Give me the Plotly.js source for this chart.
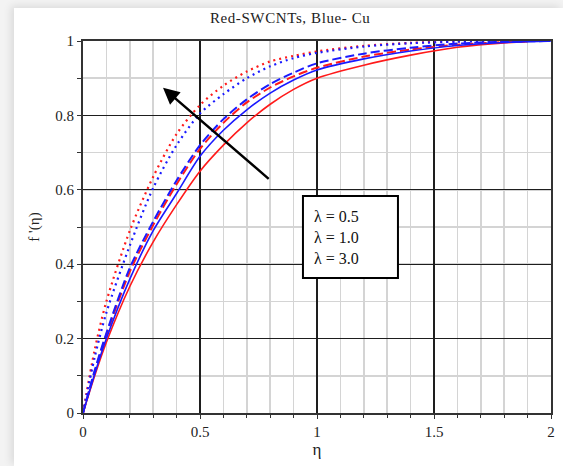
<!DOCTYPE html>
<html>
<head>
<meta charset="utf-8">
<script src="https://cdn.plot.ly/plotly-3.0.1.min.js"></script>
<style>
  html, body { margin: 0; padding: 0; width: 563px; height: 466px; overflow: hidden; background: #f3f3f3; }
  #chart { position: absolute; left: 14px; top: 8px; width: 549px; height: 458px; background: #fff;
           box-shadow: -3px -2px 8px rgba(0,0,0,0.10); }
  #chart .gtitle { letter-spacing: 0.6px; }
</style>
</head>
<body>
<div id="chart"></div>
<script>
// η sample points
const etaRed  = [0, 0.05, 0.1, 0.2, 0.3, 0.4, 0.5, 0.6, 0.7, 0.8, 0.9, 1.0, 1.2, 1.4, 1.6, 1.8, 1.9];
const etaBlue = [0, 0.05, 0.1, 0.2, 0.3, 0.4, 0.5, 0.6, 0.7, 0.8, 0.9, 1.0, 1.2, 1.4, 1.6, 1.8, 2.0];

// Red = SWCNTs
const redL05 = [0, 0.10, 0.19, 0.34, 0.46, 0.56, 0.65, 0.72, 0.78, 0.83, 0.87, 0.90, 0.935, 0.962, 0.983, 0.995, 0.998];
const redL10 = [0, 0.11, 0.21, 0.38, 0.505, 0.615, 0.71, 0.78, 0.835, 0.875, 0.905, 0.928, 0.958, 0.977, 0.99, 0.997, 0.999];
const redL30 = [0, 0.17, 0.30, 0.49, 0.635, 0.75, 0.828, 0.88, 0.918, 0.945, 0.96, 0.972, 0.987, 0.995, 0.999, 1.0, 1.0];
// Blue = Cu
const blueL05 = [0, 0.105, 0.20, 0.36, 0.49, 0.59, 0.69, 0.76, 0.815, 0.86, 0.895, 0.922, 0.952, 0.973, 0.988, 0.996, 1.0];
const blueL10 = [0, 0.115, 0.215, 0.39, 0.515, 0.625, 0.72, 0.79, 0.843, 0.884, 0.915, 0.94, 0.966, 0.982, 0.993, 0.998, 1.0];
const blueL30 = [0, 0.15, 0.27, 0.45, 0.605, 0.72, 0.805, 0.857, 0.9, 0.932, 0.954, 0.968, 0.985, 0.994, 0.998, 1.0, 1.0];

const legendLines = ["λ = 0.5", "λ = 1.0", "λ = 3.0"];
const xTicks = [0, 0.5, 1, 1.5, 2];
const xTickText = ["0", "0.5", "1", "1.5", "2"];
const yTicks = [0, 0.2, 0.4, 0.6, 0.8, 1];
const yTickText = ["0", "0.2", "0.4", "0.6", "0.8", "1"];

const RED = '#ff1a1a', BLUE = '#1a1aff';
const DASH = '9px,4px', DOT = '2px,4px';

function tr(x, y, color, dash, w) {
  return { x: x, y: y, type: 'scatter', mode: 'lines', hoverinfo: 'skip',
           line: { color: color, dash: dash, width: w, shape: 'spline', smoothing: 0.8 } };
}

const data = [
  tr(etaRed, redL05, RED, 'solid', 1.6),
  tr(etaRed, redL10, RED, DASH, 2),
  tr(etaRed, redL30, RED, DOT, 2.2),
  tr(etaBlue, blueL05, BLUE, 'solid', 1.6),
  tr(etaBlue, blueL10, BLUE, DASH, 2),
  tr(etaBlue, blueL30, BLUE, DOT, 2.2)
];

const serif = 'Liberation Serif, Times New Roman, serif';

const layout = {
  width: 549, height: 458,
  margin: { l: 69, r: 12, t: 33, b: 53 },
  paper_bgcolor: '#ffffff', plot_bgcolor: '#ffffff',
  showlegend: false,
  title: { text: 'Red-SWCNTs, Blue- Cu', font: { family: serif, size: 15, color: '#222' },
           xref: 'container', x: 0.503, xanchor: 'center', y: 0.978, yanchor: 'middle', yref: 'container' },
  xaxis: {
    range: [0, 2], tickvals: xTicks, ticktext: xTickText,
    showgrid: true, gridcolor: '#1e1e1e', gridwidth: 1.3,
    minor: { dtick: 0.1, showgrid: true, gridcolor: '#d4d4d4', gridwidth: 1.5, ticks: 'outside', ticklen: 3, tickcolor: '#333' },
    ticks: 'outside', ticklen: 4, tickcolor: '#333',
    showline: true, mirror: true, linecolor: '#333', linewidth: 2,
    zeroline: false,
    tickfont: { family: serif, size: 15, color: '#222' },
    title: { text: 'η', font: { family: serif, size: 17, color: '#222' }, standoff: 4 }
  },
  yaxis: {
    range: [0, 1], tickvals: yTicks, ticktext: yTickText,
    showgrid: true, gridcolor: '#1e1e1e', gridwidth: 1.3,
    minor: { dtick: 0.1, showgrid: true, gridcolor: '#d4d4d4', gridwidth: 1.5, ticks: 'outside', ticklen: 4, tickcolor: '#333' },
    ticks: 'outside', ticklen: 4, tickcolor: '#333',
    showline: true, mirror: true, linecolor: '#333', linewidth: 2,
    zeroline: false,
    tickfont: { family: serif, size: 15, color: '#222' },
    title: { text: "f '(η)", font: { family: serif, size: 15, color: '#222' }, standoff: 12 }
  },
  shapes: [
    { type: 'rect', xref: 'x', yref: 'y', x0: 0.94, x1: 1.346, y0: 0.363, y1: 0.583,
      fillcolor: '#ffffff', line: { color: '#000', width: 2 }, layer: 'above' }
  ],
  annotations: [
    { xref: 'x', yref: 'y', x: 0.342, y: 0.874, axref: 'x', ayref: 'y', ax: 0.80, ay: 0.626,
      showarrow: true, arrowhead: 2, arrowsize: 1.3, arrowwidth: 2.5, arrowcolor: '#000', text: '' },
    { xref: 'x', yref: 'y', x: 0.978, y: 0.472, xanchor: 'left', yanchor: 'middle', align: 'left',
      showarrow: false, text: legendLines.join('<br>'),
      font: { family: serif, size: 16, color: '#111' } }
  ]
};

Plotly.newPlot('chart', data, layout, { staticPlot: true, displayModeBar: false });
</script>
</body>
</html>
